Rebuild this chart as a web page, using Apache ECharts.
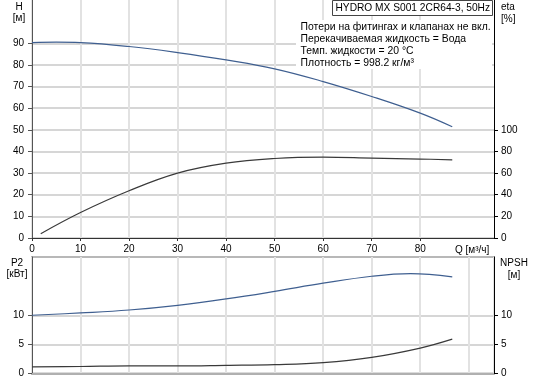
<!DOCTYPE html>
<html><head><meta charset="utf-8">
<script src="https://cdn.jsdelivr.net/npm/echarts@6/dist/echarts.min.js"></script>
<style>html,body{margin:0;padding:0;background:#fff}#c{width:534px;height:382px}</style>
</head><body><div id="c"></div>
<script>
// Data
const qH = [0, 5, 10, 20, 30, 40, 50, 60, 70, 80, 86.6];
const headH = [90.3, 90.5, 90.3, 88.5, 85.7, 82.3, 78.2, 72.3, 65.4, 57.7, 51.4];
const qEta = [1.8, 10, 20, 30, 40, 50, 60, 70, 80, 86.6];
const eta = [4, 23.6, 43.7, 60, 69.2, 73.5, 74.8, 73.9, 73, 72.3];
const qP2 = [0, 10, 20, 30, 40, 50, 60, 70, 78, 86.6];
const p2 = [10, 10.4, 10.9, 11.7, 12.8, 14.1, 15.5, 16.7, 17.15, 16.6];
const qNpsh = [0, 10, 20, 30, 40, 50, 60, 70, 80, 86.6];
const npsh = [1.14, 1.2, 1.3, 1.3, 1.4, 1.53, 1.87, 2.77, 4.37, 5.9];
const qTicks = [0, 10, 20, 30, 40, 50, 60, 70, 80];
const hTicks = [0, 10, 20, 30, 40, 50, 60, 70, 80, 90];
const etaTicks = [0, 20, 40, 60, 80, 100];
const p2Ticks = [0, 5, 10];
const npshTicks = [0, 5, 10];
const titleText = 'HYDRO MX S001 2CR64-3, 50Hz';
const infoLines = ['Потери на фитингах и клапанах не вкл.', 'Перекачиваемая жидкость = Вода', 'Темп. жидкости = 20 °C', 'Плотность = 998.2 кг/м³'];

const zip = (a, b) => a.map((v, i) => [v, b[i]]);
const F = 'Liberation Sans, Arial, sans-serif';
const FS = 10;
const lbl = {fontFamily: F, fontSize: FS, color: '#000'};
const hGrid = {show: true, lineStyle: {color: '#d6d6d6', width: 2}};
const vGrid = {show: true, lineStyle: {color: '#e2e2e2', width: 2}};
const txt = (x, y, s, align, fs) => ({type: 'text', z: 51, style: {x: x, y: y, text: s, font: (fs || FS) + 'px ' + F, fill: '#000', align: align || 'left', verticalAlign: 'middle'}});

const chart = echarts.init(document.getElementById('c'), null, {renderer: 'canvas'});
const graphics = [
  {type: 'rect', z: 50, shape: {x: 296, y: 20, width: 196, height: 49}, style: {fill: '#fff'}},
  {type: 'rect', z: 50, shape: {x: 332.5, y: 0.5, width: 160, height: 15}, style: {fill: '#fff', stroke: '#444', lineWidth: 1}},
  txt(335.5, 8, titleText, 'left', 10.2),
  txt(455, 250, 'Q [м³/ч]'),
  txt(19, 7, 'H', 'center'), txt(19, 18, '[м]', 'center'),
  txt(501, 7, 'eta'), txt(501, 19, '[%]'),
  txt(17, 263, 'P2', 'center'), txt(17, 274, '[кВт]', 'center'),
  txt(514, 263, 'NPSH', 'center'), txt(514, 275, '[м]', 'center')
];
const infoY = [26.7, 39, 51, 63.3];
infoLines.forEach((s, i) => graphics.push(txt(300.5, infoY[i], s, 'left', 10.4)));

chart.setOption({
  animation: false,
  backgroundColor: '#fff',
  grid: [
    {left: 32, right: 40, top: 0, height: 238, show: false},
    {left: 32, right: 40, top: 257, height: 116.5, show: true, borderColor: '#b8b8b8', borderWidth: 2, backgroundColor: 'transparent'}
  ],
  xAxis: [
    {gridIndex: 0, type: 'value', min: 0, max: 95.2, interval: 10,
     axisLine: {show: true, onZero: false, lineStyle: {color: '#333', width: 1}},
     axisTick: {show: true, length: 3, customValues: qTicks, lineStyle: {color: '#333'}},
     axisLabel: Object.assign({margin: 6, customValues: qTicks}, lbl),
     splitLine: vGrid},
    {gridIndex: 1, type: 'value', min: 0, max: 95.2, interval: 10,
     axisLine: {show: true, onZero: false, lineStyle: {color: '#b0b0b0', width: 2}},
     axisTick: {show: false}, axisLabel: {show: false}, splitLine: vGrid}
  ],
  yAxis: [
    {gridIndex: 0, type: 'value', min: 0, max: 110, interval: 10, position: 'left',
     axisLine: {show: true, onZero: false, lineStyle: {color: '#555', width: 1}},
     axisTick: {show: true, length: 4, customValues: hTicks, lineStyle: {color: '#555'}},
     axisLabel: Object.assign({margin: 8, customValues: hTicks}, lbl),
     splitLine: hGrid},
    {gridIndex: 0, type: 'value', min: 0, max: 220, interval: 20, position: 'right',
     axisLine: {show: true, onZero: false, lineStyle: {color: '#000', width: 1}},
     axisTick: {show: true, length: 4, customValues: etaTicks, lineStyle: {color: '#000'}},
     axisLabel: Object.assign({margin: 7, customValues: etaTicks}, lbl),
     splitLine: {show: false}},
    {gridIndex: 1, type: 'value', min: 0, max: 20, interval: 5, position: 'left',
     axisLine: {show: true, onZero: false, lineStyle: {color: '#555', width: 1}},
     axisTick: {show: true, length: 4, customValues: p2Ticks, lineStyle: {color: '#555'}},
     axisLabel: Object.assign({margin: 8, customValues: p2Ticks}, lbl),
     splitLine: hGrid},
    {gridIndex: 1, type: 'value', min: 0, max: 20, interval: 5, position: 'right',
     axisLine: {show: true, onZero: false, lineStyle: {color: '#000', width: 1}},
     axisTick: {show: true, length: 4, customValues: npshTicks, lineStyle: {color: '#000'}},
     axisLabel: Object.assign({margin: 7, customValues: npshTicks}, lbl),
     splitLine: {show: false}}
  ],
  series: [
    {type: 'line', xAxisIndex: 0, yAxisIndex: 0, data: zip(qH, headH), smooth: 0.4, showSymbol: false, lineStyle: {color: '#3f5f90', width: 1.2}},
    {type: 'line', xAxisIndex: 0, yAxisIndex: 1, data: zip(qEta, eta), smooth: 0.4, showSymbol: false, lineStyle: {color: '#3a3a3a', width: 1.2}},
    {type: 'line', xAxisIndex: 1, yAxisIndex: 2, data: zip(qP2, p2), smooth: 0.4, showSymbol: false, lineStyle: {color: '#3f5f90', width: 1.2}},
    {type: 'line', xAxisIndex: 1, yAxisIndex: 3, data: zip(qNpsh, npsh), smooth: 0.4, showSymbol: false, lineStyle: {color: '#3a3a3a', width: 1.2}}
  ],
  graphic: graphics
});
</script></body></html>
